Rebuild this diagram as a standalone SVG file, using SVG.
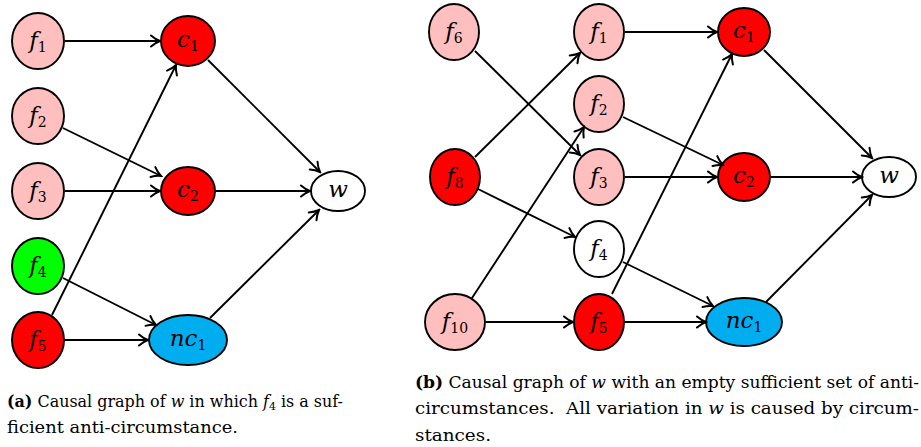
<svg xmlns="http://www.w3.org/2000/svg" width="921" height="447" viewBox="0 0 921 447">
<defs>
<marker id="ar" markerUnits="userSpaceOnUse" viewBox="-12 -7 14 14" refX="0" refY="0" markerWidth="14" markerHeight="14" orient="auto">
<path d="M-9,-5.5 C-5.5,-2.4 -1.6,-0.6 0,0 C-1.6,0.6 -5.5,2.4 -9,5.5" fill="none" stroke="#000" stroke-width="2" stroke-linecap="round"/>
</marker>
<style>
.n{stroke:#000;stroke-width:1.9}
.pink{fill:#ffbfbf}.red{fill:#ff0000}.green{fill:#00ff00}.cyan{fill:#00aeef}.white{fill:#fff}
.lab{font-family:"DejaVu Serif","Liberation Serif",serif;font-size:23px;font-style:italic;text-anchor:middle;fill:#000}
.sub{font-size:14px;font-style:normal}
.e line{stroke:#000;stroke-width:1.9;marker-end:url(#ar)}
.cap{font-family:"DejaVu Serif","Liberation Serif",serif;font-size:16px;fill:#000}
.b{font-weight:bold}.i{font-style:italic}.cs{font-size:11px}
</style>
</defs>
<g id="left-nodes">
<g id="a-f1"><ellipse class="n pink" cx="38" cy="41" rx="26" ry="28"/><text class="lab" x="38" y="48">f<tspan class="sub" dy="4">1</tspan></text></g>
<g id="a-f2"><ellipse class="n pink" cx="38" cy="116" rx="26" ry="28"/><text class="lab" x="38" y="123">f<tspan class="sub" dy="4">2</tspan></text></g>
<g id="a-f3"><ellipse class="n pink" cx="38" cy="191" rx="26" ry="28"/><text class="lab" x="38" y="198">f<tspan class="sub" dy="4">3</tspan></text></g>
<g id="a-f4"><ellipse class="n green" cx="38" cy="266" rx="26" ry="28"/><text class="lab" x="38" y="273">f<tspan class="sub" dy="4">4</tspan></text></g>
<g id="a-f5"><ellipse class="n red" cx="38" cy="340" rx="26" ry="28"/><text class="lab" x="38" y="347">f<tspan class="sub" dy="4">5</tspan></text></g>
<g id="a-c1"><ellipse class="n red" cx="188" cy="41" rx="27" ry="25"/><text class="lab" x="188" y="47">c<tspan class="sub" dy="4">1</tspan></text></g>
<g id="a-c2"><ellipse class="n red" cx="188" cy="191" rx="27" ry="24"/><text class="lab" x="188" y="197">c<tspan class="sub" dy="4">2</tspan></text></g>
<g id="a-nc1"><ellipse class="n cyan" cx="188" cy="340" rx="39" ry="25"/><text class="lab" x="188" y="346">nc<tspan class="sub" dy="4">1</tspan></text></g>
<g id="a-w"><ellipse class="n white" cx="338" cy="191" rx="27" ry="20"/><text class="lab" x="338" y="197">w</text></g>
</g>
<g id="left-edges" class="e">
<line x1="65" y1="41" x2="160" y2="41"/>
<line x1="63" y1="128" x2="161" y2="176"/>
<line x1="65" y1="191" x2="160" y2="191"/>
<line x1="63" y1="278" x2="156" y2="325"/>
<line x1="52" y1="315" x2="176" y2="65"/>
<line x1="65" y1="340" x2="148" y2="340"/>
<line x1="208" y1="60" x2="320" y2="172"/>
<line x1="216" y1="191" x2="310" y2="191"/>
<line x1="210" y1="318" x2="319" y2="210"/>
</g>
<g id="right-nodes">
<g id="b-f6"><ellipse class="n pink" cx="454" cy="32" rx="25" ry="28"/><text class="lab" x="454" y="39">f<tspan class="sub" dy="4">6</tspan></text></g>
<g id="b-f8"><ellipse class="n red" cx="455" cy="177" rx="25" ry="28"/><text class="lab" x="455" y="184">f<tspan class="sub" dy="4">8</tspan></text></g>
<g id="b-f10"><ellipse class="n pink" cx="455" cy="322" rx="30" ry="28"/><text class="lab" x="455" y="329">f<tspan class="sub" dy="4">10</tspan></text></g>
<g id="b-f1"><ellipse class="n pink" cx="599" cy="32" rx="25" ry="28"/><text class="lab" x="599" y="39">f<tspan class="sub" dy="4">1</tspan></text></g>
<g id="b-f2"><ellipse class="n pink" cx="599" cy="104" rx="25" ry="28"/><text class="lab" x="599" y="111">f<tspan class="sub" dy="4">2</tspan></text></g>
<g id="b-f3"><ellipse class="n pink" cx="599" cy="177" rx="25" ry="28"/><text class="lab" x="599" y="184">f<tspan class="sub" dy="4">3</tspan></text></g>
<g id="b-f4"><ellipse class="n white" cx="599" cy="249" rx="25" ry="28"/><text class="lab" x="599" y="256">f<tspan class="sub" dy="4">4</tspan></text></g>
<g id="b-f5"><ellipse class="n red" cx="599" cy="322" rx="25" ry="28"/><text class="lab" x="599" y="329">f<tspan class="sub" dy="4">5</tspan></text></g>
<g id="b-c1"><ellipse class="n red" cx="744" cy="32" rx="26" ry="24"/><text class="lab" x="744" y="38">c<tspan class="sub" dy="4">1</tspan></text></g>
<g id="b-c2"><ellipse class="n red" cx="744" cy="177" rx="26" ry="24"/><text class="lab" x="744" y="183">c<tspan class="sub" dy="4">2</tspan></text></g>
<g id="b-nc1"><ellipse class="n cyan" cx="744" cy="322" rx="38" ry="24"/><text class="lab" x="744" y="328">nc<tspan class="sub" dy="4">1</tspan></text></g>
<g id="b-w"><ellipse class="n white" cx="889" cy="177" rx="27" ry="20"/><text class="lab" x="889" y="183">w</text></g>
</g>
<g id="right-edges" class="e">
<line x1="475" y1="51" x2="580" y2="155"/>
<line x1="475" y1="157" x2="580" y2="53"/>
<line x1="478" y1="189" x2="575" y2="237"/>
<line x1="472" y1="298" x2="584" y2="127"/>
<line x1="486" y1="322" x2="573" y2="322"/>
<line x1="625" y1="32" x2="717" y2="32"/>
<line x1="623" y1="117" x2="723" y2="165"/>
<line x1="625" y1="177" x2="717" y2="177"/>
<line x1="623" y1="262" x2="713" y2="306"/>
<line x1="612" y1="294" x2="732" y2="54"/>
<line x1="625" y1="322" x2="706" y2="322"/>
<line x1="764" y1="50" x2="872" y2="158"/>
<line x1="771" y1="177" x2="862" y2="177"/>
<line x1="766" y1="302" x2="872" y2="195"/>
</g>
<g id="captions">
<text class="cap" x="7" y="407" textLength="336" lengthAdjust="spacingAndGlyphs"><tspan class="b">(a)</tspan> Causal graph of <tspan class="i">w</tspan> in which <tspan class="i">f</tspan><tspan class="cs" dy="3">4</tspan><tspan dy="-3"> is a suf-</tspan></text>
<text class="cap" x="7" y="433" textLength="231" lengthAdjust="spacingAndGlyphs">ficient anti-circumstance.</text>
<text class="cap" x="415" y="388" textLength="504" lengthAdjust="spacingAndGlyphs"><tspan class="b">(b)</tspan> Causal graph of <tspan class="i">w</tspan> with an empty sufficient set of anti-</text>
<text class="cap" x="415" y="414" textLength="504" lengthAdjust="spacingAndGlyphs">circumstances.&#160; All variation in <tspan class="i">w</tspan> is caused by circum-</text>
<text class="cap" x="415" y="441" textLength="76" lengthAdjust="spacingAndGlyphs">stances.</text>
</g>
</svg>
